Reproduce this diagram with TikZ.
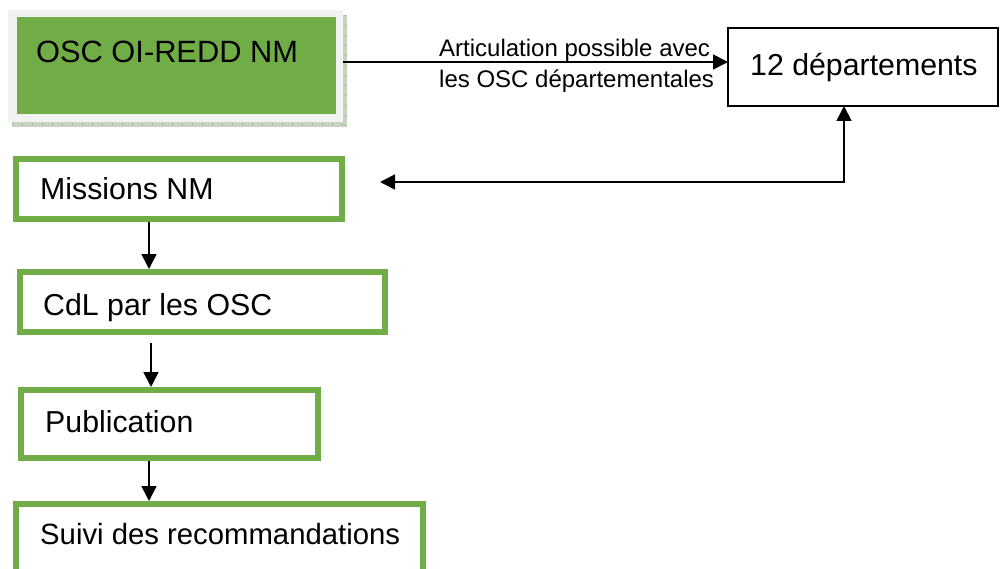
\documentclass[tikz,border=0pt]{standalone}
\usepackage{fontspec}
\setmainfont{Liberation Sans}
\usetikzlibrary{arrows.meta}
\definecolor{offgreen}{HTML}{70AD47}
\definecolor{framegray}{HTML}{F2F2F2}
\definecolor{shadowfill}{HTML}{C9D1C1}
\definecolor{shadowline}{HTML}{8C9A82}
\tikzset{
  big/.style={font=\fontsize{30.3}{36}\selectfont},
  small/.style={font=\fontsize{24}{29}\selectfont},
  txt/.style={anchor=base west, inner sep=0pt},
  greenbox/.style={draw=offgreen, line width=6pt, fill=white},
  blackbox/.style={draw=black, line width=2pt, fill=white},
  arr/.style={line width=1.7pt, -{Triangle[length=15pt,width=15pt]}},
  biarr/.style={line width=1.7pt, {Triangle[length=15pt,width=15pt]}-{Triangle[length=15pt,width=15pt]}},
}
\begin{document}
\begin{tikzpicture}[x=1pt,y=-1pt]
\useasboundingbox[fill=white] (0,0) rectangle (1000,569);

% shadow of the top box
\fill[shadowfill] (12,122) rectangle (347,127);
\fill[shadowfill] (343,15) rectangle (347,127);
\draw[shadowline, line width=0.8pt, dash pattern=on 1pt off 9pt] (12,124.5) -- (347,124.5);
\draw[shadowline, line width=0.8pt, dash pattern=on 1pt off 9pt] (345,15) -- (345,127);

% top box: grey frame and green face
\node[draw=none, fill=framegray, minimum width=335pt, minimum height=112pt, inner sep=0pt, outer sep=0pt] (osc) at (175.5,66) {};
\node[draw=none, fill=offgreen, minimum width=319pt, minimum height=97pt, inner sep=0pt] (oscface) at (176.5,65.5) {};
\node[txt, font=\fontsize{30.8}{36}\selectfont] (osct) at (36,63) {OSC OI-REDD NM};

% 12 départements
\node[blackbox, minimum width=270pt, minimum height=78pt, inner sep=0pt, outer sep=0pt] (dep) at (863,67) {};
\node[txt, big] (dept) at (750,76) {12 départements};

% arrow with label
\draw[arr] ([yshift=4pt]osc.east) -- ([yshift=4pt]osc.east -| dep.west);
\node[txt, small] (lab1) at (439,57) {Articulation possible avec};
\node[txt, small] (lab2) at (439,88) {les OSC départementales};

% green steps
\node[greenbox, minimum width=326pt, minimum height=60pt, inner sep=0pt] (mis) at (179,189) {};
\node[txt, big] (mist) at (40,200) {Missions NM};

\node[greenbox, minimum width=365pt, minimum height=60pt, inner sep=0pt] (cdl) at (202.5,302) {};
\node[txt, big] (cdlt) at (43,315) {CdL par les OSC};

\node[greenbox, minimum width=297pt, minimum height=68pt, inner sep=0pt] (pub) at (169.5,424) {};
\node[txt, big] (pubt) at (45,432) {Publication};

\node[greenbox, minimum width=407pt, minimum height=71pt, inner sep=0pt] (sui) at (219.5,539.5) {};
\node[txt, font=\fontsize{29.3}{35}\selectfont] (suit) at (40,544) {Suivi des recommandations};

% connectors
\coordinate (corner) at (844,182);
\coordinate (freeleft) at (380,182);
\draw[biarr] (freeleft) -- (corner) -- (corner |- dep.south);

\draw[arr] (mis.south -| 149,0) -- (cdl.north -| 149,0);
\coordinate (gapstart) at (151,343);
\draw[arr] (gapstart) -- (gapstart |- pub.north);
\draw[arr] (pub.south -| 149,0) -- (sui.north -| 149,0);
\end{tikzpicture}
\end{document}
